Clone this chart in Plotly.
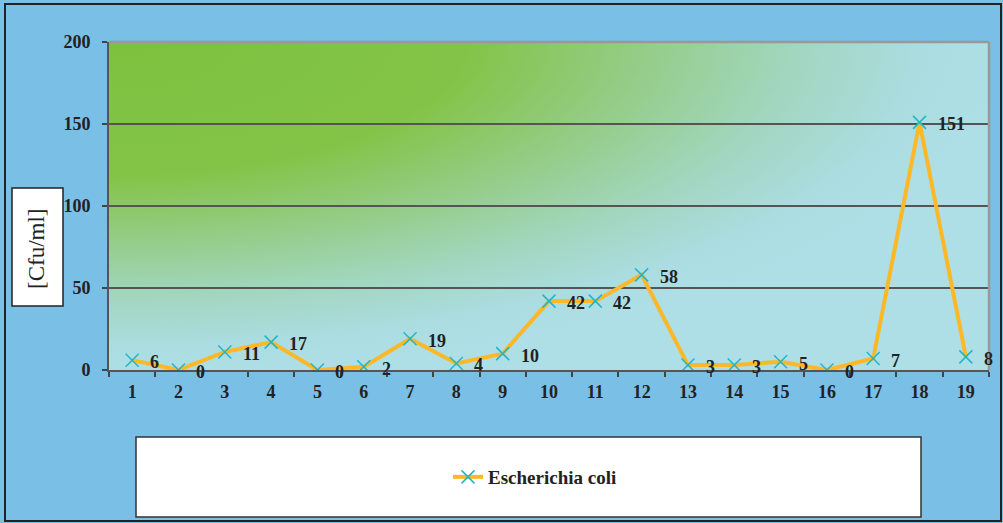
import base64
import plotly.graph_objects as go

# Sampling points and colony counts of Escherichia coli
samples = [str(i) for i in range(1, 20)]
counts = [6, 0, 11, 17, 0, 2, 19, 4, 10, 42, 42, 58, 3, 3, 5, 0, 7, 151, 8]
y_ticks = [0, 50, 100, 150, 200]
series_name = "Escherichia coli"
y_title = "[Cfu/ml]"

W, H = 1003, 523
L, R, T, B = 109, 14, 42, 153
PW, PH = W - L - R, H - T - B


def px_x(px):
    return (px - L) / PW


def px_y(py):
    return (H - B - py) / PH


# Green-to-cyan radial wash for the plotting area
svg = f"""<svg xmlns='http://www.w3.org/2000/svg' width='{PW}' height='{PH}' viewBox='0 0 {PW} {PH}' preserveAspectRatio='none'>
<defs><radialGradient id='g' cx='0' cy='0' r='1.02' fx='0' fy='0'>
<stop offset='0' stop-color='#7DC13E'/>
<stop offset='0.4' stop-color='#83C448'/>
<stop offset='0.6' stop-color='#95CD8A'/>
<stop offset='0.76' stop-color='#A2D6BE'/>
<stop offset='0.9' stop-color='#ABDCDF'/>
<stop offset='1' stop-color='#AEDFE7'/>
</radialGradient></defs>
<rect x='0' y='0' width='{PW}' height='{PH}' fill='url(#g)'/>
</svg>"""
bg_src = "data:image/svg+xml;base64," + base64.b64encode(svg.encode()).decode()

serif = "Liberation Serif"
fig = go.Figure()
fig.add_trace(go.Scatter(
    x=samples, y=counts, mode="lines+markers", name=series_name,
    line=dict(color="#FDB827", width=4),
    marker=dict(symbol="x-thin", size=13, color="#1FB6CC",
                line=dict(width=1.5, color="#1FB6CC")),
    showlegend=True,
))

# Value labels to the right of each point (category index positions)
for i, v in enumerate(counts):
    fig.add_annotation(x=i, y=v, text=str(v), showarrow=False,
                       xanchor="left", yanchor="middle", xshift=16, yshift=-2,
                       font=dict(family=serif, size=18, color="#222", weight="bold"))

# Y axis title in a framed box
fig.add_shape(type="rect", xref="paper", yref="paper",
              x0=px_x(12), x1=px_x(63), y0=px_y(306), y1=px_y(188),
              fillcolor="white", line=dict(color="#222", width=1.5), layer="above")
fig.add_annotation(xref="paper", yref="paper", x=px_x(36), y=px_y(249), text=y_title,
                   textangle=-90, showarrow=False, xanchor="center", yanchor="middle",
                   font=dict(family=serif, size=23, color="#222"))

# Legend panel
fig.add_shape(type="rect", xref="paper", yref="paper",
              x0=px_x(136), x1=px_x(921), y0=px_y(517), y1=px_y(437),
              fillcolor="white", line=dict(color="#333", width=1.5), layer="below")

# Outer frame
fig.add_shape(type="rect", xref="paper", yref="paper",
              x0=px_x(5), x1=px_x(1001), y0=px_y(521), y1=px_y(4),
              fillcolor="rgba(0,0,0,0)", line=dict(color="#222", width=2), layer="below")

# Top and right plot borders
fig.add_shape(type="line", xref="paper", yref="paper", x0=0, x1=1, y0=1, y1=1,
              line=dict(color="#999", width=2.5))
fig.add_shape(type="line", xref="paper", yref="paper", x0=1, x1=1, y0=0, y1=1,
              line=dict(color="#999", width=2.5))

fig.add_layout_image(dict(source=bg_src, xref="paper", yref="paper", x=0, y=1,
                          sizex=1, sizey=1, sizing="stretch", xanchor="left",
                          yanchor="top", layer="below"))

tickfont = dict(family=serif, size=18, color="#222", weight="bold")
fig.update_layout(
    width=W, height=H,
    margin=dict(l=L, r=R, t=T, b=B, autoexpand=False),
    paper_bgcolor="#79BFE6", plot_bgcolor="#AEDFE7",
    xaxis=dict(type="category", tickson="boundaries", ticks="outside", ticklen=5,
               tickwidth=1.5, tickcolor="#444", showline=True, linecolor="#555",
               linewidth=2, showgrid=False, tickfont=tickfont, ticklabelstandoff=4,
               range=[-0.5, len(samples) - 0.5]),
    yaxis=dict(range=[0, 200], tickvals=y_ticks, ticks="outside", ticklen=5,
               tickwidth=1.5, tickcolor="#444", showline=True, linecolor="#555",
               linewidth=2, showgrid=True, gridcolor="#555", gridwidth=1.5,
               zeroline=False, tickfont=tickfont, ticklabelstandoff=8),
    legend=dict(x=px_x(448), y=px_y(477), xanchor="left", yanchor="middle",
                bgcolor="rgba(0,0,0,0)", borderwidth=0,
                font=dict(family=serif, size=19, color="#222", weight="bold")),
    showlegend=True,
)

fig.write_html("out.html")
